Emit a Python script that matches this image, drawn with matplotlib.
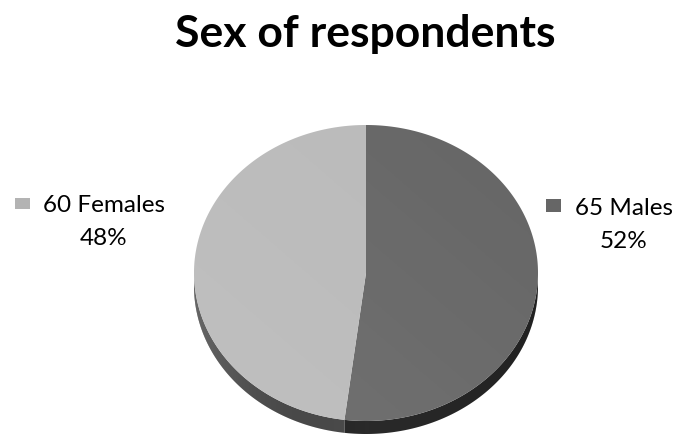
import numpy as np
import matplotlib
matplotlib.use("Agg")
import matplotlib.pyplot as plt
from matplotlib.patches import Polygon, Rectangle

title = "Sex of respondents"
categories = ["Males", "Females"]
counts = [65, 60]
percents = ["52%", "48%"]
top_colors = ["#666666", "#bababa"]
side_colors = ["#2a2a2a", "#4e4e4e"]
legend_colors = ["#666666", "#b3b3b3"]

W, H = 676, 436
fig = plt.figure(figsize=(W / 100, H / 100), dpi=100)
ax = fig.add_axes([0, 0, 1, 1])
ax.set_xlim(0, W)
ax.set_ylim(H, 0)
ax.axis("off")

cx, cy, rx, ry, depth = 366, 273, 172, 148, 13
total = sum(counts)

def pt(t, dy=0.0):
    return cx + rx * np.cos(np.radians(t)), cy - ry * np.sin(np.radians(t)) + dy

starts, ends = [], []
a = 90.0
for c in counts:
    b = a - 360.0 * c / total
    starts.append(a)
    ends.append(b)
    a = b

# side walls
for i in range(len(counts)):
    s, e = starts[i], ends[i]
    ts = np.linspace(e, s, 400)
    ts_mod = np.mod(ts, 360)
    mask = (ts_mod >= 180) & (ts_mod <= 360)
    if not mask.any():
        continue
    tv = ts[mask]
    x1, y1 = pt(tv)
    x2, y2 = pt(tv[::-1], depth)
    poly = Polygon(np.column_stack([np.r_[x1, x2], np.r_[y1, y2]]),
                   closed=True, facecolor=side_colors[i], edgecolor="none", zorder=2)
    ax.add_patch(poly)
    grad = np.linspace(0, 1, 256).reshape(1, -1)
    im = ax.imshow(grad, extent=[cx - rx, cx + rx, cy + ry + depth, cy - 10],
                   cmap=matplotlib.colors.LinearSegmentedColormap.from_list(
                       "g", [(0.5, 0.5, 0.5, 0.5), (0, 0, 0, 0.0), (0, 0, 0, 0.2)]),
                   aspect="auto", zorder=2.5)
    im.set_clip_path(poly)

# top wedges
for i in range(len(counts)):
    ts = np.linspace(starts[i], ends[i], 400)
    x, y = pt(ts)
    poly = Polygon(np.column_stack([np.r_[cx, x], np.r_[cy, y]]), closed=True,
                   facecolor=top_colors[i], edgecolor="none", zorder=3)
    ax.add_patch(poly)
    grad = np.linspace(0, 1, 256).reshape(-1, 1) * np.ones((1, 256))
    gx = np.linspace(0, 1, 256).reshape(1, -1)
    g = 0.5 * grad + 0.5 * (1 - gx)
    im = ax.imshow(g, extent=[cx - rx, cx + rx, cy + ry, cy - ry],
                   cmap=matplotlib.colors.LinearSegmentedColormap.from_list(
                       "t", [(1, 1, 1, 0.0), (1, 1, 1, 0.08)]),
                   aspect="auto", zorder=3.5)
    im.set_clip_path(poly)

font = "Lato"
ax.text(365, 47, title, ha="center", va="baseline", fontsize=32,
        fontweight="bold", family=font, zorder=5)

# Females (left)
ax.add_patch(Rectangle((15, 198), 15, 11, facecolor=legend_colors[1], edgecolor="none"))
ax.text(43, 212, f"{counts[1]} {categories[1]}", ha="left", va="baseline",
        fontsize=17.5, family=font)
ax.text(104, 245, percents[1], ha="center", va="baseline", fontsize=17.5, family=font)
# Males (right)
ax.add_patch(Rectangle((546, 199), 15, 13, facecolor=legend_colors[0], edgecolor="none"))
ax.text(575, 215, f"{counts[0]} {categories[0]}", ha="left", va="baseline",
        fontsize=17.5, family=font)
ax.text(624, 248, percents[0], ha="center", va="baseline", fontsize=17.5, family=font)

fig.savefig("out.png", dpi=100)
